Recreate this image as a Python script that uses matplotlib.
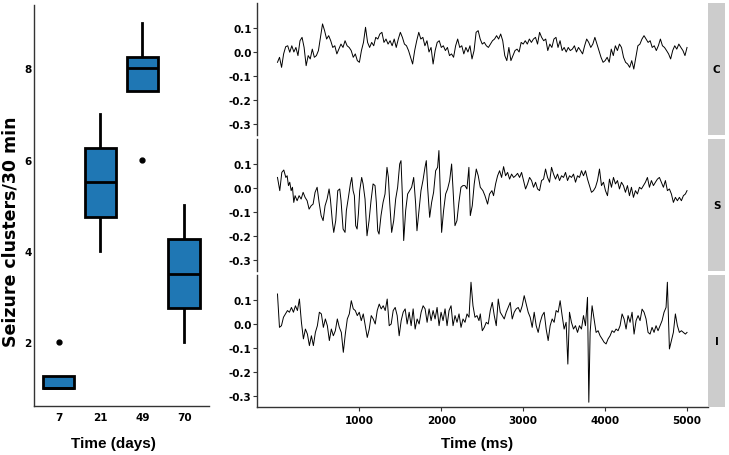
import numpy as np
import matplotlib
matplotlib.use('Agg')
import matplotlib.pyplot as plt

plt.rcParams['font.family'] = ['DejaVu Sans']
plt.rcParams['font.weight'] = 'bold'
plt.rcParams['axes.unicode_minus'] = False

# ---------------- data ----------------
days = ['7', '21', '49', '70']
clusters_7 = [1, 1, 1, 2]
clusters_21 = [4, 5, 6, 7]
clusters_49 = [6, 8, 8, 9]
clusters_70 = [2, 3, 4, 5]

panel_names = ['C', 'S', 'I']

# --- trace C (sampled every 25 ms) ---
time_C = list(range(0, 5001, 25))
eeg_C = [-0.043, -0.022, -0.064, -0.008, 0.022, 0.026, -0.001, 0.026, 0.0, 0.019,
         -0.015, 0.047, 0.061, 0.019, -0.057, -0.015, -0.029, 0.012, -0.022, -0.015,
         0.006, 0.061, 0.117, 0.089, 0.054, 0.068, 0.047, 0.019, 0.026, -0.008,
         0.012, 0.033, 0.019, 0.047, 0.026, 0.019, 0.006, -0.022, -0.008, -0.036,
         -0.043, 0.006, 0.04, 0.103, 0.04, 0.019, 0.04, 0.026, 0.061, 0.054,
         0.075, 0.082, 0.04, 0.054, 0.033, 0.047, 0.026, 0.054, 0.019, 0.054,
         0.082, 0.061, 0.033, 0.026, 0.006, -0.022, -0.05, 0.006, 0.047, 0.082,
         0.054, 0.061, 0.026, 0.047, 0.0, 0.019, -0.05, 0.006, 0.04, 0.047,
         0.019, 0.026, 0.006, 0.019, -0.015, -0.008, -0.022, 0.026, 0.054, 0.019,
         0.026, -0.008, 0.019, 0.0, 0.026, -0.029, 0.006, 0.082, 0.089, 0.054,
         0.033, 0.04,
         0.026, 0.019, 0.033, 0.047, 0.054, 0.068, 0.054, 0.075, 0.047, -0.015,
         -0.036, 0.019, -0.036, -0.015, 0.006, 0.012, 0.0, 0.04, 0.033, 0.047,
         0.033, 0.054, 0.04, 0.054, 0.061, 0.033, 0.082, 0.061, 0.047, 0.054,
         0.006, 0.033, 0.019, 0.054, 0.061, 0.019, 0.047, 0.006, 0.019, 0.0,
         0.019, 0.006, 0.012, 0.026, 0.0, 0.019, 0.006, -0.008, 0.026, 0.054,
         0.04, 0.019, 0.033, 0.061, 0.033, 0.006, -0.022, -0.043, -0.036, -0.022,
         -0.043, 0.012, -0.015, 0.026, 0.006, 0.033, 0.019, -0.022, -0.043, -0.05,
         -0.064, -0.036, -0.071, -0.022, 0.026, 0.033, 0.054, 0.068, 0.054, 0.04,
         0.047, 0.019, 0.026, 0.006, 0.026, 0.054, 0.026, 0.019, 0.006, -0.008,
         -0.029, 0.006, 0.026, 0.012, 0.033, 0.019, 0.006, -0.015, 0.019]

# --- trace S: seizure part then the calmer tail ---
time_S_head = [0, 28, 53, 77, 102, 118, 134, 150, 167, 183,
               199, 215, 240, 264, 289, 313, 337, 362, 386, 411,
               435, 459, 484, 508, 533, 557, 581, 606, 630, 646,
               671, 687, 711, 736, 760, 776, 801, 825, 841, 866,
               890, 907, 923, 939, 955, 972, 988, 1004, 1028, 1045,
               1069, 1093, 1118, 1142, 1167, 1191, 1207, 1224, 1240, 1264,
               1289, 1313, 1337, 1354, 1370, 1394, 1419, 1443, 1467, 1492,
               1508, 1524, 1541, 1565, 1589, 1614, 1638, 1663, 1687, 1703,
               1728, 1752, 1776, 1801, 1817, 1833, 1858, 1882, 1906, 1931,
               1955, 1971, 1988, 2004, 2028, 2053, 2077, 2102, 2126, 2142,
               2167, 2191, 2215, 2240, 2264, 2289, 2313, 2337, 2354, 2378,
               2402, 2427, 2451]
eeg_S_head = [0.044, -0.011, 0.065, 0.075, 0.044, 0.051, 0.01, 0.024, -0.011, 0.003,
              -0.06, -0.032, -0.053, -0.032, -0.046, -0.018, -0.039, -0.053, -0.088, -0.074,
              -0.067, -0.018, 0.003, -0.06, -0.115, -0.136, -0.074, -0.046, -0.004, -0.046,
              -0.143, -0.185, -0.136, -0.011, -0.004, -0.053, -0.171, -0.185, -0.094, -0.039,
              0.017, 0.044, -0.011, -0.032, -0.157, -0.171, -0.108, -0.011, 0.044, 0.017,
              -0.046, -0.199, -0.136, -0.053, 0.017, 0.01, -0.06, -0.178, -0.192, -0.115,
              -0.06, -0.025, 0.086, 0.044, -0.06, -0.185, -0.136, -0.046, 0.003, 0.1,
              0.114, -0.025, -0.219, -0.094, -0.025, -0.011, 0.003, 0.044, -0.067, -0.178,
              -0.094, -0.011, 0.031, 0.086, 0.114, 0.003, -0.122, -0.06, -0.018, 0.072,
              0.086, 0.156, -0.025, -0.185, -0.094, -0.025, -0.004, 0.031, 0.1, 0.003,
              -0.157, -0.136, -0.06, 0.003, 0.01, 0.01, -0.004, 0.086, -0.115, -0.074,
              0.017, 0.079, 0.051]
time_S_tail = ([2476, 2508, 2533, 2565, 2589, 2618, 2638]
               + list(np.linspace(2663, 4980, 96)) + [5000])
eeg_S_tail = [0.003, -0.011, -0.032, -0.067, -0.025, -0.011, -0.032,
              0.017, 0.051, 0.072, 0.044, 0.089, 0.051, 0.065, 0.037, 0.058, 0.044,
              0.051, 0.061, 0.044, 0.065, 0.031, -0.004, 0.017, 0.044, 0.031, 0.003,
              0.024, -0.004, -0.011, 0.031, 0.037, 0.079, 0.044, 0.024, 0.086, 0.058,
              0.037, 0.058, 0.031, 0.051, 0.044, 0.065, 0.031, 0.051, 0.044, 0.058,
              0.024, 0.051, 0.044, 0.072, 0.051, 0.072, 0.037, 0.01, -0.018, -0.011,
              0.003, 0.031, 0.079, 0.01, 0.024, -0.011, -0.032, 0.037, 0.003, 0.044,
              0.017, 0.031, -0.004, 0.024, 0.01, -0.018, 0.01, -0.032, 0.003, -0.039,
              -0.011, -0.025, 0.003, -0.004, 0.01, 0.024, 0.044, 0.003, 0.031, 0.01,
              0.024, 0.037, 0.044, 0.024, 0.003, 0.031, -0.011, -0.004, -0.025, -0.06,
              -0.039, -0.053, -0.039, -0.053, -0.032, -0.025,
              -0.011]

# --- trace I ---
time_I_a = list(np.linspace(0, 2460, 102))
eeg_I_a = [0.125, -0.014, -0.007, 0.028, 0.042, 0.056, 0.049, 0.069, 0.049, 0.076,
           0.056, 0.104, 0.007, -0.062, -0.021, -0.042, -0.09, -0.049, -0.09, -0.035,
           -0.007, 0.049, 0.042, -0.014, 0.021, -0.007, -0.069, -0.021, -0.049, -0.028,
           0.021, -0.014, -0.035, -0.118, -0.042, 0.021, 0.042, 0.097, 0.063, 0.056,
           0.035, 0.049, 0.014, 0.042, -0.007, -0.056, -0.021, 0.035, 0.021, 0.0,
           0.056, 0.083, 0.063, 0.076, 0.056, 0.104, -0.007, 0.0, 0.056, 0.069,
           0.035, -0.049, 0.014, 0.049, 0.063, 0.0, 0.049, -0.007, 0.063, -0.021,
           0.021, 0.0, 0.049, 0.076, 0.063, 0.007, 0.063, 0.014, 0.056, 0.021,
           0.069, -0.007, 0.049, 0.014, 0.063, -0.007, 0.056, 0.076, -0.007, 0.035,
           0.007, 0.042, -0.014, 0.021, 0.007, 0.042, 0.028, 0.174, 0.076, 0.028,
           0.035, 0.014]
time_I_b = list(np.linspace(2476, 3524, 44))
eeg_I_b = [0.042, -0.028, -0.014, 0.007, 0.0, 0.056, 0.09, 0.035, -0.007, 0.104,
           0.049, 0.035, 0.021, 0.049, 0.069, 0.09, 0.021, 0.049, 0.063, 0.069,
           0.049, 0.076, 0.118, 0.083, 0.049, 0.028, -0.014, 0.049, -0.007, -0.035,
           0.007, 0.035, 0.049, -0.021, -0.069, -0.007, 0.021, 0.007, 0.056, 0.049,
           0.097, 0.035, -0.021, 0.007]
time_I_c = [3545, 3565, 3589, 3614, 3638, 3663, 3687, 3711, 3736, 3760,
            3785, 3801, 3817]
eeg_I_c = [-0.167, 0.049, 0.007, -0.021, -0.007, -0.035, -0.007, -0.021, 0.035, -0.007,
           0.111, -0.326, -0.035]
time_I_d = list(np.linspace(3841, 4744, 38))
eeg_I_d = [0.076, 0.021, -0.035, -0.028, -0.049, -0.062, -0.076, -0.083, -0.062, -0.049,
           -0.028, -0.035, -0.021, -0.028, -0.007, 0.042, 0.021, -0.021, 0.035, 0.007,
           0.049, -0.042, 0.014, 0.035, 0.014, 0.062, 0.049, 0.021, -0.035, -0.042,
           -0.014, -0.035, -0.007, -0.028, -0.007, 0.014, 0.049, 0.069]
time_I_e = [4760, 4785] + list(np.linspace(4809, 4980, 8)) + [5000]
eeg_I_e = [0.174, -0.104, -0.069, -0.035, 0.042, -0.007, -0.035, -0.028, -0.035, -0.042,
           -0.035]

time_S = time_S_head + time_S_tail
eeg_S = eeg_S_head + eeg_S_tail
time_I = time_I_a + time_I_b + time_I_c + time_I_d + time_I_e
eeg_I = eeg_I_a + eeg_I_b + eeg_I_c + eeg_I_d + eeg_I_e

traces = [(time_C, eeg_C), (time_S, eeg_S), (time_I, eeg_I)]

y_ticks = [-0.3, -0.2, -0.1, 0.0, 0.1]
x_ticks = [1000, 2000, 3000, 4000, 5000]

# ---------------- figure ----------------
W, H = 729, 456
fig = plt.figure(figsize=(W / 100, H / 100), dpi=100)
TITLE_FONT = ['Liberation Sans', 'DejaVu Sans']


def px_axes(x0, y0, x1, y1):
    return fig.add_axes([x0 / W, 1 - y1 / H, (x1 - x0) / W, (y1 - y0) / H])


def style(ax):
    for s in ['top', 'right']:
        ax.spines[s].set_visible(False)
    for s in ['left', 'bottom']:
        ax.spines[s].set_linewidth(1.0)
        ax.spines[s].set_color('#333333')
    ax.tick_params(length=2.8, width=0.8, color='#333333', labelsize=7.5,
                   labelcolor='black')
    ax.tick_params(axis='y', pad=1)
    ax.tick_params(axis='x', pad=3)


# left boxplot
ax = px_axes(33.5, 5.6, 209.2, 406.8)
ax.boxplot([clusters_7, clusters_21, clusters_49, clusters_70],
           positions=[1, 2, 3, 4], widths=0.75, patch_artist=True,
           showcaps=False,
           boxprops=dict(facecolor='#1f77b4', edgecolor='black', linewidth=2, zorder=2),
           whiskerprops=dict(color='black', linewidth=2, zorder=1),
           medianprops=dict(color='black', linewidth=2, zorder=3),
           flierprops=dict(marker='o', markerfacecolor='black',
                           markeredgecolor='black', markersize=3.5))
ax.set_xlim(0.4, 4.6)
ax.set_ylim(0.6, 9.4)
ax.set_yticks([2, 4, 6, 8])
ax.set_xticks([1, 2, 3, 4])
ax.set_xticklabels(days)
style(ax)
ax.tick_params(length=0)
ax.tick_params(axis='y', pad=1.5)
ax.tick_params(axis='x', pad=4.5)

fig.text(10.5 / W, 1 - 232 / H, 'Seizure clusters/30 min', rotation=90,
         ha='center', va='center', fontsize=12.5, fontweight='bold',
         family=['DejaVu Sans'])
fig.text(113 / W, 1 - 448 / H, 'Time (days)', ha='center', va='baseline',
         fontsize=11, fontweight='bold', family=TITLE_FONT)
fig.text(477 / W, 1 - 448 / H, 'Time (ms)', ha='center', va='baseline',
         fontsize=11, fontweight='bold', family=TITLE_FONT)

# right faceted traces
for i, ((t, v), name) in enumerate(zip(traces, panel_names)):
    top = 3.8 + 136 * i
    a = px_axes(257, top, 707.5, top + 132)
    a.plot(t, v, color='black', lw=0.7)
    a.set_xlim(-250, 5250)
    a.set_ylim(-0.345, 0.205)
    a.set_yticks(y_ticks)
    a.set_yticklabels(['%.1f' % y for y in y_ticks])
    style(a)
    if i < 2:
        a.spines['bottom'].set_visible(False)
        a.set_xticks([])
    else:
        a.set_xticks(x_ticks)
    s = px_axes(708, top, 725, top + 132)
    s.set_facecolor('#cccccc')
    for sp in s.spines.values():
        sp.set_visible(False)
    s.set_xticks([])
    s.set_yticks([])
    s.text(0.5, 0.5, name, ha='center', va='center', fontsize=7.5,
           fontweight='bold', transform=s.transAxes)

fig.savefig('out.png', dpi=100)
